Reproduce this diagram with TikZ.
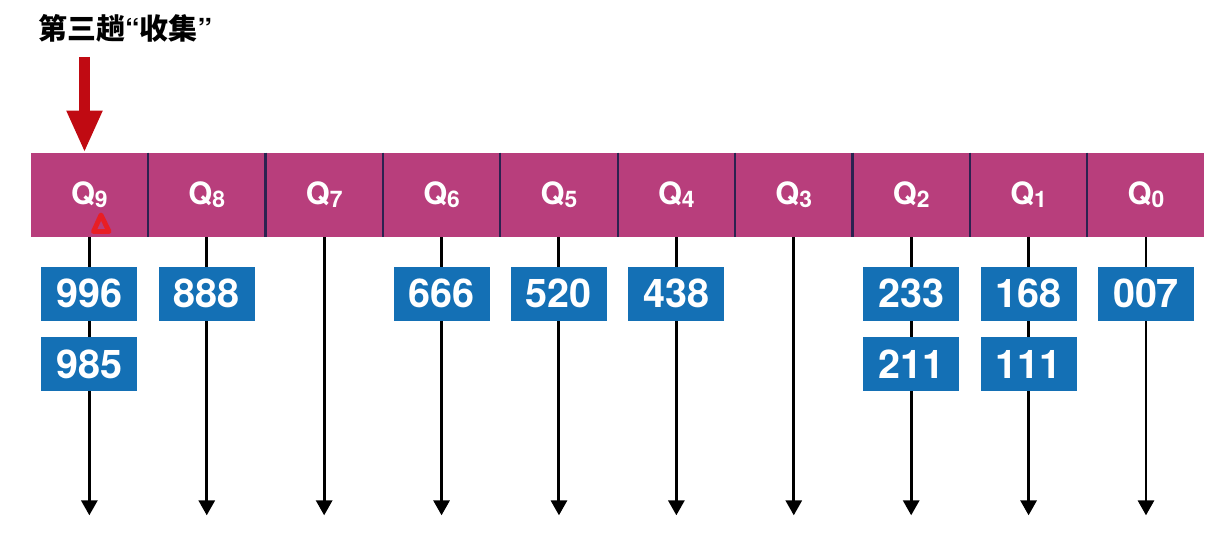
\documentclass[tikz,border=0pt]{standalone}
\usepackage{fontspec}
\usepackage{xcolor}
\usetikzlibrary{arrows.meta, positioning}
\newfontfamily\heros{TeX Gyre Heros}
\newfontfamily\cjk{Noto Sans CJK SC}
\definecolor{queuefill}{HTML}{B83E7C}
\definecolor{divider}{HTML}{2B2250}
\definecolor{numblue}{HTML}{1470B5}
\definecolor{pickred}{HTML}{C00A12}
\definecolor{markred}{HTML}{E81E25}
\newcommand{\qlab}[1]{Q\raisebox{-1.8pt}{\fontsize{13}{14}\selectfont #1}}
\tikzset{
  queue/.style={
    fill=queuefill, minimum width=2.334cm, minimum height=1.68cm,
    inner sep=0pt, text=white, font=\heros\bfseries\fontsize{17.5}{20}\selectfont
  },
  numbox/.style={
    fill=numblue, minimum width=1.92cm, minimum height=1.08cm,
    inner sep=0pt, text=white, font=\heros\bfseries\fontsize{22.5}{24}\selectfont
  },
  divline/.style={draw=divider, line width=1.2pt},
  outarrow/.style={-{Triangle[width=0.32cm, length=0.30cm]}, line width=1.7pt, black},
  pickarrow/.style={-{Triangle[width=0.66cm, length=0.84cm]}, line width=0.22cm, pickred}
}

\begin{document}
\begin{tikzpicture}[node distance=0cm]
    \useasboundingbox (0,0) rectangle (24.26,-10.72);

    % title and the red pointer
    \node[font=\cjk\bfseries\fontsize{16.5}{18}\selectfont, anchor=west] (title) at (0.64,-0.57) {第三趟{\heros\bfseries “}收集{\heros\bfseries ”}};
    \coordinate (rtop) at (1.69,-1.14);

    % the ten queues
    \node[queue] (q9) at (1.787,-3.90) {\qlab{9}};
    \node[queue, right=of q9] (q8) {\qlab{8}};
    \node[queue, right=of q8] (q7) {\qlab{7}};
    \node[queue, right=of q7] (q6) {\qlab{6}};
    \node[queue, right=of q6] (q5) {\qlab{5}};
    \node[queue, right=of q5] (q4) {\qlab{4}};
    \node[queue, right=of q4] (q3) {\qlab{3}};
    \node[queue, right=of q3] (q2) {\qlab{2}};
    \node[queue, right=of q2] (q1) {\qlab{1}};
    \node[queue, right=of q1] (q0) {\qlab{0}};

    \draw[divline] (q9.north east) -- (q9.south east);
    \draw[divline] (q8.north east) -- (q8.south east);
    \draw[divline] (q7.north east) -- (q7.south east);
    \draw[divline] (q6.north east) -- (q6.south east);
    \draw[divline] (q5.north east) -- (q5.south east);
    \draw[divline] (q4.north east) -- (q4.south east);
    \draw[divline] (q3.north east) -- (q3.south east);
    \draw[divline] (q2.north east) -- (q2.south east);
    \draw[divline] (q1.north east) -- (q1.south east);

    \draw[pickarrow] (rtop) -- (rtop |- q9.north);
    \draw[markred, line width=2.8pt, line join=round] (2.02,-4.30) -- (1.87,-4.63) -- (2.18,-4.63) -- cycle;

    % outlets
    \coordinate[below=5.56cm of q9.south] (e9);
    \coordinate[below=5.56cm of q8.south] (e8);
    \coordinate[below=5.56cm of q7.south] (e7);
    \coordinate[below=5.56cm of q6.south] (e6);
    \coordinate[below=5.56cm of q5.south] (e5);
    \coordinate[below=5.56cm of q4.south] (e4);
    \coordinate[below=5.56cm of q3.south] (e3);
    \coordinate[below=5.56cm of q2.south] (e2);
    \coordinate[below=5.56cm of q1.south] (e1);
    \coordinate[below=5.56cm of q0.south] (e0);

    \draw[outarrow] (q9.south) -- (e9);
    \draw[outarrow] (q8.south) -- (e8);
    \draw[outarrow] (q7.south) -- (e7);
    \draw[outarrow] (q6.south) -- (e6);
    \draw[outarrow] (q5.south) -- (e5);
    \draw[outarrow] (q4.south) -- (e4);
    \draw[outarrow] (q3.south) -- (e3);
    \draw[outarrow] (q2.south) -- (e2);
    \draw[outarrow] (q1.south) -- (e1);
    \draw[outarrow] (q0.south) -- (e0);

    % collected keys
    \node[numbox, below=0.58cm of q9] (k996) {996};
    \node[numbox, below=0.32cm of k996] (k985) {985};
    \node[numbox, below=0.58cm of q8] (k888) {888};
    \node[numbox, below=0.58cm of q6] (k666) {666};
    \node[numbox, below=0.58cm of q5] (k520) {520};
    \node[numbox, below=0.58cm of q4] (k438) {438};
    \node[numbox, below=0.58cm of q2] (k233) {233};
    \node[numbox, below=0.32cm of k233] (k211) {211};
    \node[numbox, below=0.58cm of q1] (k168) {168};
    \node[numbox, below=0.32cm of k168] (k111) {111};
    \node[numbox, below=0.58cm of q0] (k007) {007};
  \end{tikzpicture}
\end{document}
